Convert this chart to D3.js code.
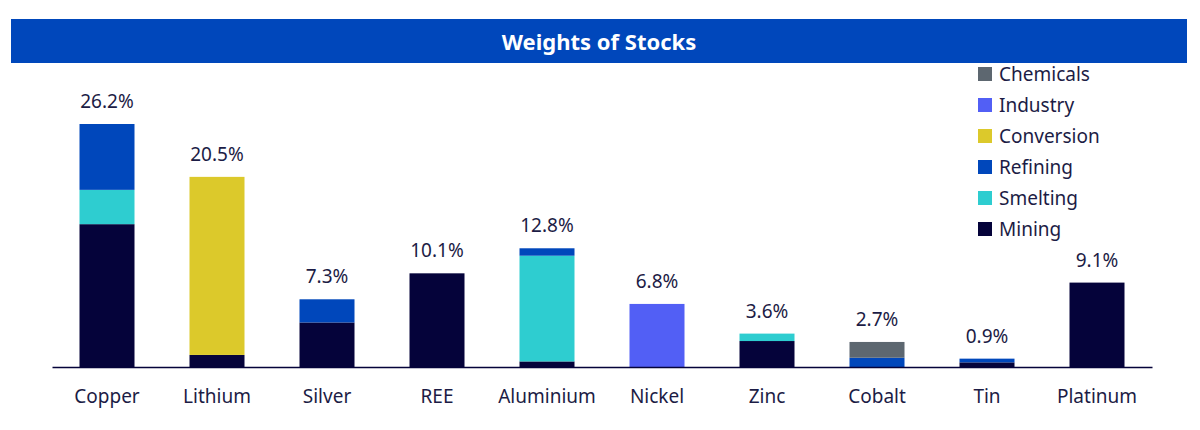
<!DOCTYPE html>
<html>
<head>
<meta charset="utf-8">
<script src="https://cdn.jsdelivr.net/npm/d3@7"></script>
<style>
  body { margin: 0; background: #fff; }
  text { font-family: "Source Sans Pro", "Noto Sans", sans-serif; }
</style>
</head>
<body>
<script>
// categories and stacked series values (% weight)
var metals = ["Copper", "Lithium", "Silver", "REE", "Aluminium", "Nickel", "Zinc", "Cobalt", "Tin", "Platinum"];
var mining     = [15.4, 1.3, 4.8, 10.1, 0.6, 0, 2.8, 0, 0.5, 9.1];
var smelting   = [3.7, 0, 0, 0, 11.4, 0, 0.8, 0, 0, 0];
var refining   = [7.1, 0, 2.5, 0, 0.8, 0, 0, 1.0, 0.4, 0];
var conversion = [0, 19.2, 0, 0, 0, 0, 0, 0, 0, 0];
var industry   = [0, 0, 0, 0, 0, 6.8, 0, 0, 0, 0];
var chemicals  = [0, 0, 0, 0, 0, 0, 0, 1.7, 0, 0];
var totals     = ["26.2%", "20.5%", "7.3%", "10.1%", "12.8%", "6.8%", "3.6%", "2.7%", "0.9%", "9.1%"];

var seriesNames = ["Mining", "Smelting", "Refining", "Conversion", "Industry", "Chemicals"];
var seriesColors = ["#05033a", "#2ecdd0", "#0047bb", "#dcc92b", "#525ff5", "#5d6770"];

var rows = metals.map(function(m, i) {
  return { metal: m, Mining: mining[i], Smelting: smelting[i], Refining: refining[i],
           Conversion: conversion[i], Industry: industry[i], Chemicals: chemicals[i], total: totals[i] };
});

var width = 1200, height = 430;
var svg = d3.select("body").append("svg")
    .attr("width", width)
    .attr("height", height);

// title bar
svg.append("rect")
    .attr("x", 11).attr("y", 19)
    .attr("width", 1176).attr("height", 44)
    .attr("fill", "#0047bb");
svg.append("text")
    .attr("x", 599).attr("y", 42)
    .attr("dy", ".35em")
    .attr("text-anchor", "middle")
    .attr("fill", "#fff")
    .style("font-size", "22px")
    .style("font-weight", "bold")
    .text("Weights of Stocks");

var x = d3.scaleBand()
    .domain(metals)
    .range([52, 1152])
    .paddingInner(0.5)
    .paddingOuter(0.25);

var baseY = 367;
var y = d3.scaleLinear()
    .domain([0, 26.2])
    .range([baseY, 124]);

var stack = d3.stack().keys(seriesNames);
var layers = stack(rows);

var color = d3.scaleOrdinal().domain(seriesNames).range(seriesColors);

svg.append("g").selectAll("g")
    .data(layers)
  .enter().append("g")
    .attr("fill", function(d) { return color(d.key); })
  .selectAll("rect")
    .data(function(d) { return d; })
  .enter().append("rect")
    .attr("x", function(d) { return x(d.data.metal); })
    .attr("y", function(d) { return y(d[1]); })
    .attr("height", function(d) { return y(d[0]) - y(d[1]); })
    .attr("width", x.bandwidth());

// x axis
var xAxis = svg.append("g")
    .attr("transform", "translate(0," + baseY + ")")
    .call(d3.axisBottom(x).tickSize(0).tickPadding(23));
xAxis.select(".domain").attr("stroke", "#05033a").attr("stroke-width", 1.5);
xAxis.selectAll("text")
    .attr("fill", "#1c1c45")
    .style("font-size", "19px");

// total labels
svg.append("g").selectAll("text")
    .data(rows)
  .enter().append("text")
    .attr("x", function(d) { return x(d.metal) + x.bandwidth() / 2; })
    .attr("y", function(d) {
      var t = seriesNames.reduce(function(s, k) { return s + d[k]; }, 0);
      return y(t) - 16;
    })
    .attr("text-anchor", "middle")
    .attr("fill", "#1c1c45")
    .style("font-size", "19px")
    .text(function(d) { return d.total; });

// legend (reverse order, top to bottom)
var legendKeys = seriesNames.slice().reverse();
var legend = svg.append("g").selectAll("g")
    .data(legendKeys)
  .enter().append("g")
    .attr("transform", function(d, i) { return "translate(978," + (74 + i * 31) + ")"; });
legend.append("rect")
    .attr("x", 0).attr("y", -7)
    .attr("width", 14).attr("height", 14)
    .attr("fill", function(d) { return color(d); });
legend.append("text")
    .attr("x", 21)
    .attr("dy", ".35em")
    .attr("fill", "#1c1c45")
    .style("font-size", "19px")
    .text(function(d) { return d; });
</script>
</body>
</html>
